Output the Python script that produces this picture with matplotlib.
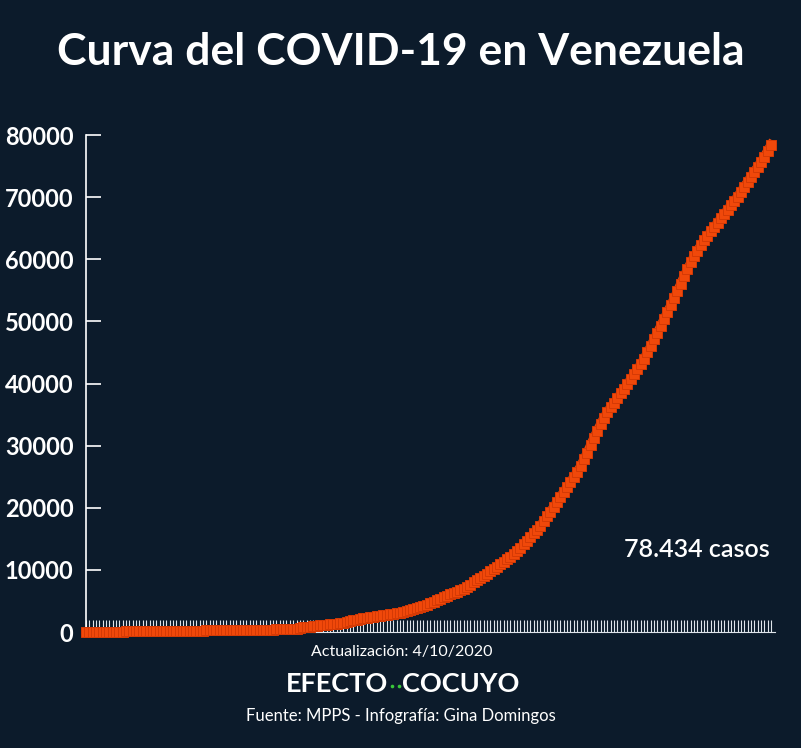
import numpy as np
import matplotlib
matplotlib.use("Agg")
import matplotlib.pyplot as plt
from matplotlib.lines import Line2D

# casos acumulados por dia, 13/03/2020 - 04/10/2020
marzo = [2, 10, 17, 33, 33, 36, 42, 70, 70, 77, 77, 84, 91, 106, 107, 119, 119, 135, 135]
abril = [143, 146, 153, 155, 159, 165, 167, 171, 171, 175, 181, 189, 189, 193, 197,
         204, 227, 256, 256, 285, 288, 298, 311, 318, 323, 325, 329, 329, 331, 333]
mayo = [335, 345, 357, 361, 379, 381, 388, 402, 414, 422, 440, 455, 459, 504, 541, 618,
        749, 824, 882, 944, 1010, 1121, 1177, 1211, 1245, 1300, 1350, 1420, 1490, 1620, 1780]
junio = [1900, 2020, 2100, 2200, 2280, 2350, 2450, 2560, 2650, 2720, 2790, 2860, 2930,
         3010, 3100, 3200, 3330, 3480, 3650, 3830, 4020, 4200, 4400, 4600, 4850, 5100,
         5350, 5600, 5850, 6100]
julio = [6300, 6500, 6750, 7000, 7300, 7650, 8000, 8350, 8700, 9050, 9400, 9750, 10100,
         10500, 10900, 11300, 11700, 12150, 12600, 13050, 13550, 14100, 14700, 15300,
         15900, 16500, 17150, 17850, 18600, 19400, 20200]
agosto = [21000, 21800, 22600, 23400, 24200, 25000, 25800, 26700, 27800, 28900, 30100,
          31300, 32400, 33500, 34500, 35400, 36200, 36900, 37600, 38400, 39100, 39900,
          40700, 41500, 42300, 43100, 44000, 45000, 46000, 47100, 48200]
septiembre = [49300, 50400, 51500, 52600, 53700, 54900, 56100, 57300, 58400, 59500, 60500,
              61400, 62300, 63100, 63800, 64500, 65200, 65900, 66600, 67300, 68000, 68700,
              69400, 70100, 70900, 71700, 72500, 73300, 74100, 74900]
octubre = [75700, 76500, 77500, 78434]

casos = marzo + abril + mayo + junio + julio + agosto + septiembre + octubre
dias = list(range(len(casos)))
yticks = [0, 10000, 20000, 30000, 40000, 50000, 60000, 70000, 80000]

fondo = '#0c1b2b'
naranja = '#f0480a'
blanco = '#ffffff'

plt.rcParams['font.family'] = ['Lato', 'DejaVu Sans']

fig = plt.figure(figsize=(8.01, 7.48), dpi=100, facecolor=fondo)
ax = fig.add_axes([0.1074, 0.1550, 0.8601, 0.6645], facecolor=fondo)

ax.plot(dias, casos, color=naranja, lw=6.5, marker='s', ms=6.5,
        markerfacecolor=naranja, markeredgecolor='#d53a05', mew=0.7,
        solid_joinstyle='miter', clip_on=False, zorder=3)

ax.set_xlim(0, 206.2)
ax.set_ylim(0, 80000)
ax.set_yticks(yticks)
ax.set_yticklabels([str(v) for v in yticks])
ax.set_xticks(dias)
ax.set_xticklabels([])

for s in ['top', 'right']:
    ax.spines[s].set_visible(False)
ax.spines['left'].set_color(blanco)
ax.spines['left'].set_linewidth(1.2)
ax.spines['bottom'].set_color('#dfe4ea')
ax.spines['bottom'].set_linewidth(0.8)

ax.tick_params(axis='y', direction='in', length=11, width=1.2, color=blanco,
               labelcolor=blanco, labelsize=17, pad=9)
ax.tick_params(axis='x', direction='in', length=9, width=0.8, color='#dfe4ea')
for lab in ax.get_yticklabels():
    lab.set_fontweight('bold')

ax.text(204.5, 13300, '78.434 casos', color=blanco, fontsize=18, fontweight='semibold',
        ha='right', va='center')

fig.text(0.5, 0.931, 'Curva del COVID-19 en Venezuela', color=blanco, fontsize=32,
         fontweight='bold', ha='center', va='center')
fig.text(0.502, 0.129, 'Actualización: 4/10/2020', color=blanco, fontsize=11.5,
         ha='center', va='center')
fig.text(388 / 801, 0.085, 'EFECTO', color=blanco, fontsize=19.5, fontweight='bold',
         ha='right', va='center')
for px in [392, 398.5]:
    fig.add_artist(Line2D([px / 801], [1 - 686 / 748], transform=fig.transFigure,
                          marker='o', ms=2.6, color='#39c83a', mew=0))
fig.text(402 / 801, 0.085, 'COCUYO', color=blanco, fontsize=19.5, fontweight='bold',
         ha='left', va='center')
fig.text(0.5, 0.043, 'Fuente: MPPS - Infografía: Gina Domingos', color=blanco,
         fontsize=12, ha='center', va='center')

fig.savefig('out.png', dpi=100, facecolor=fondo)
